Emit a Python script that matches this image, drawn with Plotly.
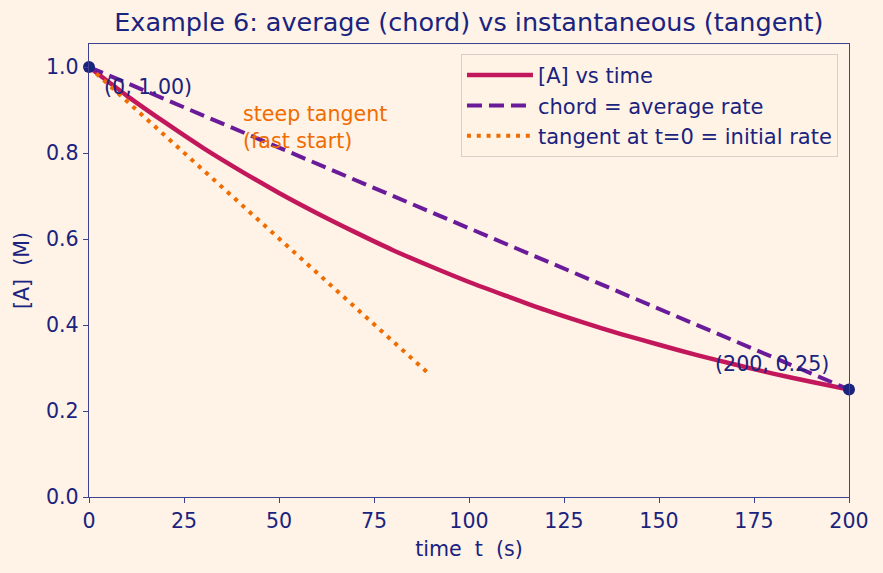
import plotly.graph_objects as go

# data
t_curve = [0, 10, 20, 30, 40, 50, 60, 70, 80, 90, 100, 110, 120, 130, 140, 150, 160, 170, 180, 190, 200]
A_curve = [1.000, 0.933, 0.871, 0.812, 0.758, 0.707, 0.660, 0.616, 0.574, 0.536, 0.500,
           0.467, 0.435, 0.406, 0.379, 0.354, 0.330, 0.308, 0.287, 0.268, 0.250]
t_chord = [0, 200]
A_chord = [1.00, 0.25]
t_tangent = [0, 89]
A_tangent = [1.00, 0.29]
pts_t = [0, 200]
pts_A = [1.00, 0.25]
pt_labels = ["(0, 1.00)", "(200, 0.25)"]

navy = "#1a237e"
axcol = "#3d4390"
bg = "#fff2e6"
font = "DejaVu Sans"
fs = 20.6

fig = go.Figure()
fig.add_trace(go.Scatter(x=t_curve, y=A_curve, mode="lines", name="[A] vs time",
                         line=dict(color="#c2185b", width=4.5, shape="spline", smoothing=0.8)))
fig.add_trace(go.Scatter(x=t_chord, y=A_chord, mode="lines", name="chord = average rate",
                         line=dict(color="#6a1b9a", width=4, dash="15px,7px")))
fig.add_trace(go.Scatter(x=t_tangent, y=A_tangent, mode="lines", name="tangent at t=0 = initial rate",
                         line=dict(color="#ef6c00", width=4, dash="4px,5.8px")))
fig.add_trace(go.Scatter(x=pts_t, y=pts_A, mode="markers", showlegend=False,
                         marker=dict(color=navy, size=12), cliponaxis=False))

fig.add_annotation(x=3.5, y=0.953, text=pt_labels[0], showarrow=False, xanchor="left",
                   yanchor="middle", font=dict(color=navy, size=fs, family=font))
fig.add_annotation(x=179.7, y=0.309, text=pt_labels[1], showarrow=False, xanchor="center",
                   yanchor="middle", font=dict(color=navy, size=fs, family=font))
fig.add_annotation(x=40.0, y=0.859, text="steep tangent<br>(fast start)", showarrow=False,
                   xanchor="left", yanchor="middle", align="left",
                   font=dict(color="#ef6c00", size=fs, family=font))

axis_common = dict(showgrid=False, zeroline=False, showline=True, linecolor=axcol, linewidth=1.3,
                   mirror=True, ticks="outside", ticklen=5, tickcolor=axcol, tickwidth=1.3,
                   tickfont=dict(color=navy, size=fs, family=font))

fig.update_layout(
    width=883, height=573,
    paper_bgcolor=bg, plot_bgcolor=bg,
    margin=dict(l=89, r=34, t=44, b=76),
    font=dict(family=font, color=navy),
    title=dict(text="Example 6: average (chord) vs instantaneous (tangent)", x=0.531, xanchor="center",
               y=0.962, yanchor="middle", font=dict(size=25.5, color=navy, family=font)),
    xaxis=dict(range=[0, 200], tickvals=[0, 25, 50, 75, 100, 125, 150, 175, 200],
               title=dict(text="time  t  (s)", font=dict(size=fs, color=navy, family=font), standoff=9),
               **axis_common),
    yaxis=dict(range=[0, 1.0535], tickvals=[0, 0.2, 0.4, 0.6, 0.8, 1.0], tickformat=".1f",
               title=dict(text="[A]  (M)", font=dict(size=fs, color=navy, family=font), standoff=10),
               **axis_common),
    legend=dict(x=0.9855, y=0.978, xanchor="right", yanchor="top", bgcolor="rgba(255,242,230,0.8)",
                bordercolor="#d8d0c8", borderwidth=1, font=dict(size=21, color=navy, family=font),
                itemwidth=66),
    showlegend=True,
)

fig.write_html("out.html")
